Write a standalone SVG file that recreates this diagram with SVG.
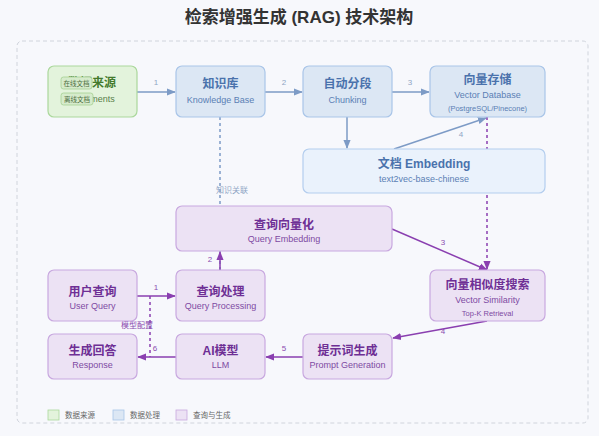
<svg xmlns="http://www.w3.org/2000/svg" width="599" height="436" viewBox="0 0 599 436">
<defs>
<style>
text{font-family:"Liberation Sans","Noto Sans CJK SC",sans-serif;text-anchor:middle}
.title{font-size:17px;font-weight:bold;fill:#333}
.g rect{fill:#e3f3dc;stroke:#abd89c;stroke-width:1.2}
.b rect{fill:#dce7f4;stroke:#a9c5e8;stroke-width:1.2}
.bl rect{fill:#eaf2fc;stroke:#b3cdee;stroke-width:1.2}
.p rect{fill:#ece2f4;stroke:#c8a8df;stroke-width:1.2}
.g .t{fill:#437a2c;font-size:12px;font-weight:bold}
.g .s{fill:#5a7f4a;font-size:9px}
.b .t,.bl .t{fill:#4a72ac;font-size:12px;font-weight:bold}
.b .s,.bl .s{fill:#5b7fb5;font-size:9px}
.b .x{fill:#5b7fb5;font-size:7.5px}
.p .t{fill:#6e2f95;font-size:12px;font-weight:bold}
.p .s{fill:#7e4aa3;font-size:9px}
.p .x{fill:#7e4aa3;font-size:7.5px}
.badge rect{fill:#d6ebcc;stroke:#a5cf92;stroke-width:0.8}
.badge text{fill:#4d6e3e;font-size:6.5px}
.eb{stroke:#7d9bc6;stroke-width:1.5;fill:none}
.ep{stroke:#8a3fb0;stroke-width:1.5;fill:none}
.lb{fill:#8fa5c5;font-size:8px}
.lp{fill:#8a4cb0;font-size:8px}
.leg{font-size:7.5px;fill:#666;text-anchor:start}
</style>
<marker id="ab" viewBox="0 0 10 10" refX="9" refY="5" markerWidth="6" markerHeight="6" orient="auto"><path d="M0,1 L10,5 L0,9 Z" fill="#7d9bc6"/></marker>
<marker id="ap" viewBox="0 0 10 10" refX="9" refY="5" markerWidth="6" markerHeight="6" orient="auto"><path d="M0,1 L10,5 L0,9 Z" fill="#8a3fb0"/></marker>
</defs>
<rect width="599" height="436" fill="#f7f8fc"/>
<text class="title" x="299" y="23">检索增强生成 (RAG) 技术架构</text>
<rect x="17" y="41" width="571" height="382" rx="5" fill="none" stroke="#d0d4dc" stroke-width="1" stroke-dasharray="4,3"/>

<g id="connectors">
<path class="eb" d="M220,117 V270" stroke-dasharray="3,3"/>
<text class="lb" x="232" y="193">知识关联</text>
<path class="eb" d="M137,92 H175" marker-end="url(#ab)"/><text class="lb" x="156" y="85">1</text>
<path class="eb" d="M265,92 H302" marker-end="url(#ab)"/><text class="lb" x="284" y="85">2</text>
<path class="eb" d="M392,92 H429" marker-end="url(#ab)"/><text class="lb" x="410" y="85">3</text>
<path class="eb" d="M347,117 V148" marker-end="url(#ab)"/>
<path class="eb" d="M394,149 L486,118" marker-end="url(#ab)"/><text class="lb" x="461" y="137">4</text>
<path class="ep" d="M487,117 V269" stroke-dasharray="3,3" marker-end="url(#ap)"/>
<path class="ep" d="M392,229 L487,270" marker-end="url(#ap)"/><text class="lp" x="443" y="245">3</text>
<path class="ep" d="M220,270 V252" marker-end="url(#ap)"/><text class="lp" x="210" y="262">2</text>
<path class="ep" d="M137,296 H175" marker-end="url(#ap)"/><text class="lp" x="156" y="290">1</text>
<path class="ep" d="M487,321 L393,338" marker-end="url(#ap)"/><text class="lp" x="443" y="334">4</text>
<path class="ep" d="M303,357 H266" marker-end="url(#ap)"/><text class="lp" x="284" y="351">5</text>
<path class="ep" d="M176,357 H138" marker-end="url(#ap)"/><text class="lp" x="155" y="351">6</text>
<path class="ep" d="M150,296 V357" stroke-dasharray="3,3" stroke-width="1.2"/>
<text class="lp" x="137" y="328">模型配置</text>
</g>

<g id="n-source" class="g">
<rect x="48" y="66" width="89" height="51" rx="6"/>
<text class="t" x="92" y="87">数据来源</text>
<text class="s" x="92" y="102">Documents</text>
<g class="badge"><rect x="61" y="77" width="31" height="12" rx="2.5"/><text x="76.5" y="85.5">在线文档</text>
<rect x="61" y="93" width="32" height="12" rx="2.5"/><text x="77" y="101.5">离线文档</text></g>
</g>
<g id="n-kb" class="b">
<rect x="176" y="66" width="89" height="51" rx="6"/>
<text class="t" x="220.5" y="88">知识库</text>
<text class="s" x="220.5" y="103">Knowledge Base</text>
</g>
<g id="n-chunk" class="b">
<rect x="303" y="66" width="89" height="51" rx="6"/>
<text class="t" x="347.5" y="88">自动分段</text>
<text class="s" x="347.5" y="103">Chunking</text>
</g>
<g id="n-vdb" class="b">
<rect x="430" y="66" width="115" height="51" rx="6"/>
<text class="t" x="487.5" y="84">向量存储</text>
<text class="s" x="487.5" y="98">Vector Database</text>
<text class="x" x="487.5" y="111">(PostgreSQL/Pinecone)</text>
</g>
<g id="n-embed" class="bl">
<rect x="303" y="149" width="242" height="44" rx="6"/>
<text class="t" x="424" y="168">文档 Embedding</text>
<text class="s" x="424" y="182">text2vec-base-chinese</text>
</g>
<g id="n-qemb" class="p">
<rect x="176" y="206" width="216" height="45" rx="6"/>
<text class="t" x="284" y="229">查询向量化</text>
<text class="s" x="284" y="242">Query Embedding</text>
</g>
<g id="n-sim" class="p">
<rect x="430" y="270" width="115" height="51" rx="6"/>
<text class="t" x="487.5" y="289">向量相似度搜索</text>
<text class="s" x="487.5" y="303">Vector Similarity</text>
<text class="x" x="487.5" y="316">Top-K Retrieval</text>
</g>
<g id="n-user" class="p">
<rect x="48" y="270" width="89" height="51" rx="6"/>
<text class="t" x="92.5" y="296">用户查询</text>
<text class="s" x="92.5" y="309">User Query</text>
</g>
<g id="n-qproc" class="p">
<rect x="176" y="270" width="89" height="51" rx="6"/>
<text class="t" x="220.5" y="296">查询处理</text>
<text class="s" x="220.5" y="309">Query Processing</text>
</g>
<g id="n-resp" class="p">
<rect x="48" y="334" width="89" height="45" rx="6"/>
<text class="t" x="92.5" y="355">生成回答</text>
<text class="s" x="92.5" y="368">Response</text>
</g>
<g id="n-llm" class="p">
<rect x="176" y="334" width="89" height="45" rx="6"/>
<text class="t" x="220.5" y="355">AI模型</text>
<text class="s" x="220.5" y="368">LLM</text>
</g>
<g id="n-prompt" class="p">
<rect x="303" y="334" width="89" height="45" rx="6"/>
<text class="t" x="347.5" y="355">提示词生成</text>
<text class="s" x="347.5" y="368">Prompt Generation</text>
</g>

<g id="legend">
<rect x="48" y="410" width="11" height="10" fill="#e3f3dc" stroke="#abd89c" stroke-width="0.8"/>
<text class="leg" x="65" y="418">数据来源</text>
<rect x="113" y="410" width="11" height="10" fill="#dce7f4" stroke="#a9c5e8" stroke-width="0.8"/>
<text class="leg" x="130" y="418">数据处理</text>
<rect x="176" y="410" width="11" height="10" fill="#ece2f4" stroke="#c8a8df" stroke-width="0.8"/>
<text class="leg" x="193" y="418">查询与生成</text>
</g>
</svg>
